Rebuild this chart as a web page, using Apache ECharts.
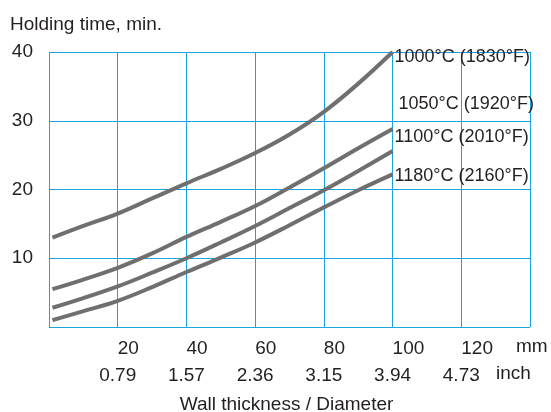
<!DOCTYPE html>
<html>
<head>
<meta charset="utf-8">
<script src="https://cdn.jsdelivr.net/npm/echarts@6/dist/echarts.min.js"></script>
<style>
html,body{margin:0;padding:0;background:#fff;}
#chart{width:551px;height:412px;}
</style>
</head>
<body>
<div id="chart"></div>
<script>
// Data
const thicknessMm = [1, 10, 20, 30, 40, 50, 60, 70, 80, 90, 100];
const seriesNames = ['1000°C (1830°F)', '1050°C (1920°F)', '1100°C (2010°F)', '1180°C (2160°F)'];
const time1000 = [13.0, 14.7, 16.5, 18.7, 20.9, 23.0, 25.3, 28.0, 31.3, 35.4, 40.0];
const time1050 = [5.5, 6.9, 8.6, 10.7, 13.1, 15.3, 17.6, 20.3, 23.1, 26.0, 28.8];
const time1100 = [2.8, 4.2, 5.9, 7.9, 10.0, 12.3, 14.7, 17.3, 19.9, 22.7, 25.6];
const time1180 = [1.0, 2.3, 3.8, 5.8, 8.0, 10.1, 12.3, 14.8, 17.4, 19.9, 22.2];
const mmTickLabels = ['20', '40', '60', '80', '100', '120'];
const inchTickLabels = ['0.79', '1.57', '2.36', '3.15', '3.94', '4.73'];
const yTickLabels = ['10', '20', '30', '40'];

const FONT = '"Liberation Sans", Arial, Helvetica, sans-serif';
const TXT = '#231f20';
const GRIDC = '#18a4e0';
const LINEC = '#6f6f70';

const allTimes = [time1000, time1050, time1100, time1180];
const labelOffsets = [[2, 5], [6, -25], [2, -14], [2, 2]];

const chart = echarts.init(document.getElementById('chart'), null, {renderer: 'canvas'});

const series = allTimes.map((vals, i) => ({
  type: 'line',
  name: seriesNames[i],
  data: thicknessMm.map((x, j) => [x, vals[j]]),
  smooth: 0.4,
  showSymbol: false,
  symbol: 'none',
  lineStyle: {color: LINEC, width: 4},
  endLabel: {
    show: true,
    formatter: seriesNames[i],
    distance: 0,
    offset: labelOffsets[i],
    fontFamily: FONT,
    fontSize: 18,
    color: TXT
  },
  z: 3
}));

const option = {
  animation: false,
  backgroundColor: '#fff',
  title: {
    text: 'Holding time, min.',
    left: 10,
    top: 15,
    padding: 0,
    textStyle: {fontFamily: FONT, fontSize: 19, fontWeight: 'normal', color: TXT}
  },
  grid: {left: 49, right: 21, top: 52, bottom: 85, containLabel: false, outerBoundsMode: 'none'},
  xAxis: [
    {
      type: 'value', min: 0, max: 140, interval: 20, position: 'bottom', offset: 0,
      axisLine: {show: false}, axisTick: {show: false},
      splitLine: {show: true, lineStyle: {color: GRIDC, width: 1}},
      axisLabel: {
        margin: 12, align: 'left', fontFamily: FONT, fontSize: 19, color: TXT,
        formatter: v => (v > 0 && v < 140) ? mmTickLabels[v / 20 - 1] : ''
      }
    },
    {
      type: 'value', min: 0, max: 140, interval: 20, position: 'bottom', offset: 0,
      axisLine: {show: false}, axisTick: {show: false}, splitLine: {show: false},
      axisLabel: {
        margin: 39, fontFamily: FONT, fontSize: 19, color: TXT,
        formatter: v => (v > 0 && v < 140) ? inchTickLabels[v / 20 - 1] : ''
      },
      name: 'Wall thickness / Diameter',
      nameLocation: 'middle',
      nameGap: 68,
      nameTextStyle: {fontFamily: FONT, fontSize: 19, color: TXT, padding: [0, 0, 0, -6]}
    }
  ],
  yAxis: {
    type: 'value', min: 0, max: 40, interval: 10,
    axisLine: {show: false}, axisTick: {show: false},
    splitLine: {show: true, lineStyle: {color: GRIDC, width: 1}},
    axisLabel: {
      margin: 16, fontFamily: FONT, fontSize: 19, color: TXT, padding: [0, 0, 5, 0],
      formatter: v => v > 0 ? yTickLabels[v / 10 - 1] : ''
    }
  },
  graphic: [
    {type: 'text', x: 516, y: 347, style: {text: 'mm', fontFamily: FONT, fontSize: 19, fill: TXT, verticalAlign: 'middle'}},
    {type: 'text', x: 496, y: 374, style: {text: 'inch', fontFamily: FONT, fontSize: 19, fill: TXT, verticalAlign: 'middle'}}
  ],
  series: series
};

chart.setOption(option);
</script>
</body>
</html>
